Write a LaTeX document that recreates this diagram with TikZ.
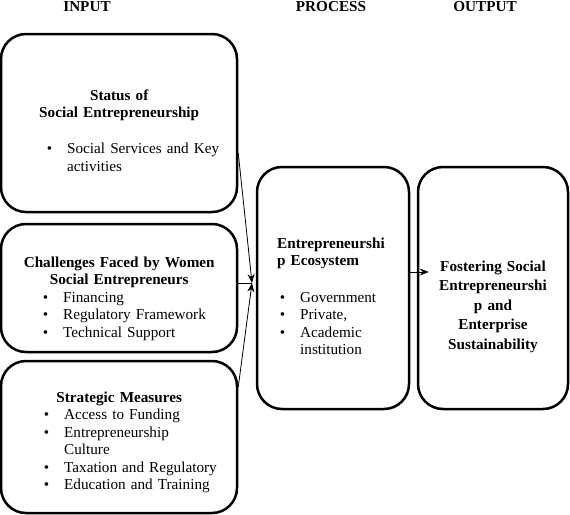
\documentclass[tikz,border=0pt]{standalone}
\usepackage{fontspec}
\setmainfont{Liberation Serif}
\usepackage{tikz}
\usetikzlibrary{arrows.meta}

\newcommand{\body}{\fontsize{15.2}{17.5}\selectfont}
\newcommand{\bitem}[2]{\par\noindent\hangindent=#1\hangafter=1\relax\makebox[#1][r]{\textbullet\hspace{15pt}}#2\par}

\begin{document}
\begin{tikzpicture}[x=1pt,y=-1pt,
    blk/.style={draw,line width=2.5pt,rounded corners=25pt},
    txt/.style={inner sep=0pt,anchor=north west,align=left,font=\body},
    hdr/.style={inner sep=0pt,anchor=base,font=\body\bfseries},
    arr/.style={-{Stealth[length=9pt,width=7pt]},line width=0.8pt}]
      \useasboundingbox (0,0) rectangle (570,514);

      \node[hdr] (inp) at (87,11) {INPUT};
      \node[hdr] (prc) at (331,11) {PROCESS};
      \node[hdr] (out) at (485,11) {OUTPUT};

      % boxes
      \node[blk,minimum width=236pt,minimum height=178pt] (sts) at (119,123) {};
      \node[blk,minimum width=236pt,minimum height=128pt] (chl) at (119,288) {};
      \node[blk,minimum width=236pt,minimum height=152pt] (str) at (119,437) {};
      \node[blk,minimum width=152pt,minimum height=242pt] (eco) at (333,288) {};
      \node[blk,minimum width=150pt,minimum height=242pt] (fos) at (493,288) {};

      % texts
      \node[txt,text width=200pt] (ststxt) at (19,89.5) {{\centering\bfseries
        Status of\\Social Entrepreneurship\par}\vspace{18.5pt}
        \bitem{48pt}{Social Services and Key\newline activities}};
      \node[txt,text width=200pt] (chltxt) at (19,256.5) {{\centering\bfseries
        Challenges Faced by Women\\Social Entrepreneurs\par}
        \bitem{44pt}{Financing}
        \bitem{44pt}{Regulatory Framework}
        \bitem{44pt}{Technical Support}};
      \node[txt,text width=200pt] (strtxt) at (19,391.5) {{\centering\bfseries
        Strategic Measures\par}
        \bitem{45pt}{Access to Funding}
        \bitem{45pt}{Entrepreneurship\newline Culture}
        \bitem{45pt}{Taxation and Regulatory}
        \bitem{45pt}{Education and Training}};
      \node[txt,text width=130pt] (ecotxt) at (277,237.5) {{\bfseries
        Entrepreneurshi\\p Ecosystem\par}\vspace{19pt}
        \bitem{23pt}{Government}
        \bitem{23pt}{Private,}
        \bitem{23pt}{Academic\newline institution}};
      \node[txt,text width=140pt,align=center,anchor=north] (fostxt) at (493,260.5) {\bfseries
        Fostering Social\\[2pt]Entrepreneurshi\\[2pt]p and\\[2pt]Enterprise\\[2pt]Sustainability};

      % connectors
      \coordinate (mrg) at (252,283);
      \draw[arr] ([yshift=-30pt]sts.east) -- (mrg);
      \draw[line width=0.8pt] ([yshift=5pt]chl.east) -- (mrg);
      \draw[arr] ([yshift=50pt]str.east) -- (mrg);
      \draw[arr] ([yshift=16pt]eco.east) -- ([xshift=12pt,yshift=16pt]fos.west);
\end{tikzpicture}
\end{document}
